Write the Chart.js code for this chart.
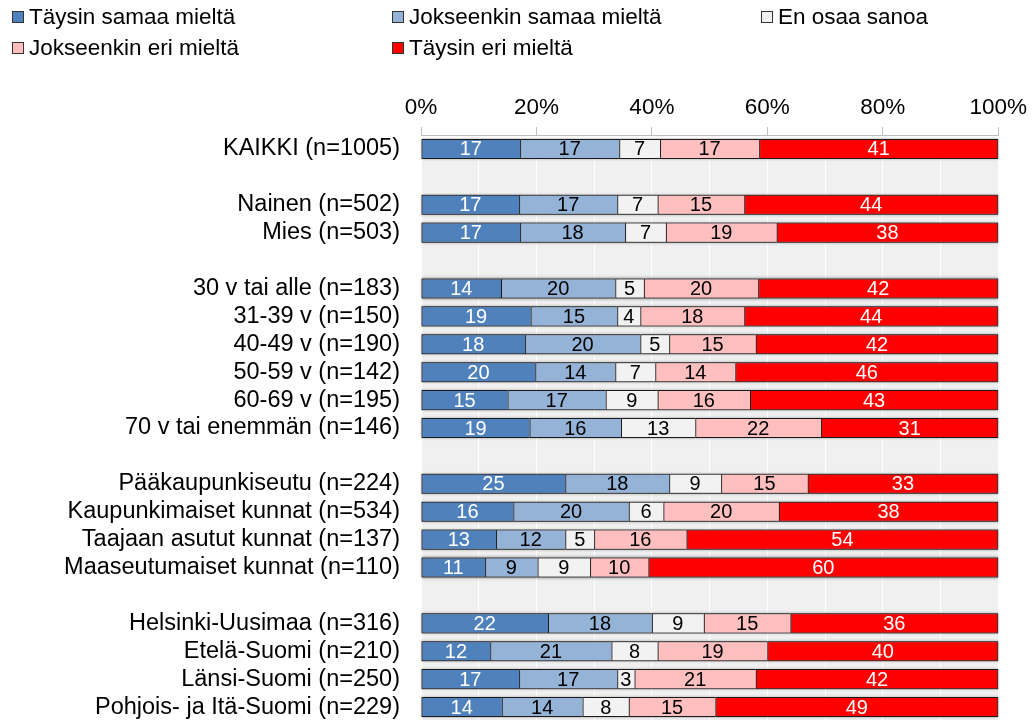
<!DOCTYPE html>
<html>
<head>
<meta charset="utf-8">
<script src="https://cdn.jsdelivr.net/npm/chart.js@4.4.0/dist/chart.umd.min.js"></script>
<style>
    html, body { margin: 0; padding: 0; background: #fff; overflow: hidden; }
    #wrap { position: relative; width: 1033px; height: 721px; }
    #legend {
        position: absolute; left: 12px; top: 1px;
        display: grid; grid-template-columns: 380px 369px auto;
        grid-auto-rows: 31px;
        font-family: "Liberation Sans", Arial, sans-serif; font-size: 22.5px; color: #000;
    }
    #legend .item { display: flex; align-items: center; white-space: nowrap; }
    #legend .box { width: 10px; height: 10px; border: 1px solid #333; margin-right: 5px; }
</style>
</head>
<body>
<div id="wrap">
    <canvas id="chart" width="1033" height="721"></canvas>
    <div id="legend"></div>
</div>
<script>
// Kategoriat (tyhjät rivit ryhmien välissä)
const ryhmat = [
    'KAIKKI (n=1005)', '',
    'Nainen (n=502)', 'Mies (n=503)', '',
    '30 v tai alle (n=183)', '31-39 v (n=150)', '40-49 v (n=190)',
    '50-59 v (n=142)', '60-69 v (n=195)', '70 v tai enemmän (n=146)', '',
    'Pääkaupunkiseutu (n=224)', 'Kaupunkimaiset kunnat (n=534)',
    'Taajaan asutut kunnat (n=137)', 'Maaseutumaiset kunnat (n=110)', '',
    'Helsinki-Uusimaa (n=316)', 'Etelä-Suomi (n=210)', 'Länsi-Suomi (n=250)',
    'Pohjois- ja Itä-Suomi (n=229)'
];

const vastaukset = ['Täysin samaa mieltä', 'Jokseenkin samaa mieltä', 'En osaa sanoa',
    'Jokseenkin eri mieltä', 'Täysin eri mieltä'];

const taysinSamaa      = [17, null, 17, 17, null, 14, 19, 18, 20, 15, 19, null, 25, 16, 13, 11, null, 22, 12, 17, 14];
const jokseenkinSamaa  = [17, null, 17, 18, null, 20, 15, 20, 14, 17, 16, null, 18, 20, 12, 9, null, 18, 21, 17, 14];
const enOsaa           = [7, null, 7, 7, null, 5, 4, 5, 7, 9, 13, null, 9, 6, 5, 9, null, 9, 8, 3, 8];
const jokseenkinEri    = [17, null, 15, 19, null, 20, 18, 15, 14, 16, 22, null, 15, 20, 16, 10, null, 15, 19, 21, 15];
const taysinEri        = [41, null, 44, 38, null, 42, 44, 42, 46, 43, 31, null, 33, 38, 54, 60, null, 36, 40, 42, 49];

const varit = ['#4F81BD', '#95B3D7', '#F2F2F2', '#FFBFBF', '#FF0000'];
const tekstivarit = ['#fff', '#000', '#000', '#000', '#fff'];

const sarjat = [taysinSamaa, jokseenkinSamaa, enOsaa, jokseenkinEri, taysinEri];

// 100 % pinottu: skaalataan rivin summaan
const summat = ryhmat.map(function (_, i) {
    let s = 0;
    sarjat.forEach(function (sarja) { s += sarja[i] || 0; });
    return s;
});

const datasets = sarjat.map(function (sarja, k) {
    return {
        label: vastaukset[k],
        data: sarja.map(function (v, i) { return v === null ? null : v / summat[i] * 100; }),
        raw: sarja,
        backgroundColor: varit[k],
        borderColor: '#1a1a1a',
        borderWidth: { top: 1, bottom: 1, left: 1, right: k === sarjat.length - 1 ? 1 : 0 },
        borderSkipped: false,
        barPercentage: 0.72,
        categoryPercentage: 1.0
    };
});

// Legenda HTML:nä
const legendEl = document.getElementById('legend');
vastaukset.forEach(function (nimi, k) {
    const item = document.createElement('div');
    item.className = 'item';
    item.innerHTML = '<span class="box" style="background:' + varit[k] + '"></span>' + nimi;
    legendEl.appendChild(item);
});

// harmaa tausta piirtoalueelle
const taustaPlugin = {
    id: 'tausta',
    beforeDraw: function (chart) {
        const a = chart.chartArea;
        const ctx = chart.ctx;
        ctx.save();
        ctx.fillStyle = '#F0F0F0';
        ctx.fillRect(a.left, a.top + 4, a.right - a.left, a.bottom - a.top - 4);
        ctx.restore();
    }
};

// kevyt varjo palkkien ympärille
const varjoPlugin = {
    id: 'varjo',
    beforeDatasetsDraw: function (chart) {
        const ctx = chart.ctx;
        const eka = chart.getDatasetMeta(0).data;
        const vika = chart.getDatasetMeta(chart.data.datasets.length - 1).data;
        ctx.save();
        ctx.shadowColor = 'rgba(0,0,0,0.45)';
        ctx.shadowBlur = 3;
        ctx.fillStyle = '#888';
        eka.forEach(function (el, i) {
            if (taysinSamaa[i] === null) return;
            const x0 = eka[i].base;
            const x1 = vika[i].x;
            const h = eka[i].height;
            ctx.fillRect(x0, eka[i].y - h / 2, x1 - x0, h);
        });
        ctx.restore();
    }
};

// arvot palkkien keskelle
const arvoPlugin = {
    id: 'arvot',
    afterDatasetsDraw: function (chart) {
        const ctx = chart.ctx;
        ctx.save();
        ctx.font = '20px "Liberation Sans", Arial, sans-serif';
        ctx.textAlign = 'center';
        ctx.textBaseline = 'middle';
        chart.data.datasets.forEach(function (ds, k) {
            const meta = chart.getDatasetMeta(k);
            meta.data.forEach(function (el, i) {
                if (ds.raw[i] === null) return;
                const p = el.getCenterPoint();
                ctx.fillStyle = tekstivarit[k];
                ctx.fillText(String(ds.raw[i]), p.x, p.y + 1);
            });
        });
        ctx.restore();
    }
};

const ctx = document.getElementById('chart').getContext('2d');
const chart = new Chart(ctx, {
    type: 'bar',
    data: { labels: ryhmat, datasets: datasets },
    plugins: [taustaPlugin, varjoPlugin, arvoPlugin],
    options: {
        indexAxis: 'y',
        responsive: false,
        animation: false,
        layout: { padding: { left: 0, right: 32, top: 0, bottom: 0 } },
        plugins: {
            legend: { display: false },
            tooltip: { enabled: false }
        },
        scales: {
            x: {
                position: 'top',
                stacked: true,
                min: 0,
                max: 100,
                ticks: {
                    stepSize: 10,
                    autoSkip: false,
                    maxRotation: 0,
                    padding: 6,
                    color: '#000',
                    font: { family: '"Liberation Sans", Arial, sans-serif', size: 22.5 },
                    callback: function (v) { return v % 20 === 0 ? v + '%' : ''; }
                },
                grid: {
                    color: '#ffffff',
                    lineWidth: 1,
                    tickLength: 8,
                    tickColor: function (c) { return c.tick && c.tick.value % 20 === 0 ? '#BFBFBF' : 'rgba(0,0,0,0)'; }
                },
                border: { display: true, color: '#BFBFBF', width: 1 },
                afterFit: function (scale) { scale.height = 135; }
            },
            y: {
                stacked: true,
                grid: { display: false, drawTicks: false, tickLength: 0 },
                border: { display: false },
                ticks: {
                    autoSkip: false,
                    padding: 21,
                    color: '#000',
                    font: { family: '"Liberation Sans", Arial, sans-serif', size: 23.5 }
                },
                afterFit: function (scale) {
                    scale.width = 421;
                    scale.paddingTop = 0;
                    scale.paddingBottom = 0;
                }
            }
        }
    }
});
</script>
</body>
</html>
